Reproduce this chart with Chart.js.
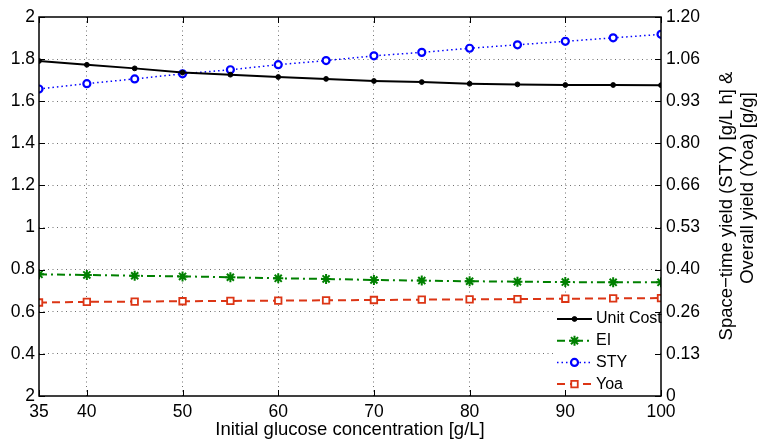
<!DOCTYPE html>
<html>
<head>
<meta charset="utf-8">
<script src="https://cdn.jsdelivr.net/npm/chart.js@4.4.1/dist/chart.umd.min.js"></script>
<style>
  html, body { margin: 0; padding: 0; background: #fff; }
</style>
</head>
<body>
<canvas id="chart" width="760" height="441"></canvas>
<script>
// data
const glucose  = [35, 40, 45, 50, 55, 60, 65, 70, 75, 80, 85, 90, 95, 100];
const unitCost = [1.791, 1.773, 1.756, 1.736, 1.726, 1.715, 1.706, 1.696, 1.691, 1.683, 1.680, 1.677, 1.677, 1.676];
const ei       = [0.778, 0.775, 0.771, 0.768, 0.764, 0.759, 0.756, 0.751, 0.748, 0.745, 0.743, 0.741, 0.740, 0.740];
const sty      = [0.972, 0.989, 1.004, 1.020, 1.033, 1.049, 1.062, 1.077, 1.088, 1.101, 1.112, 1.123, 1.134, 1.145];
const yoa      = [0.296, 0.298, 0.299, 0.300, 0.301, 0.302, 0.303, 0.304, 0.305, 0.306, 0.307, 0.308, 0.309, 0.310];

const xTicks      = [35, 40, 50, 60, 70, 80, 90, 100];
const leftTicks   = [0.2, 0.4, 0.6, 0.8, 1.0, 1.2, 1.4, 1.6, 1.8, 2.0];
const leftLabels  = ['2', '0.4', '0.6', '0.8', '1', '1.2', '1.4', '1.6', '1.8', '2'];
const rightTicks  = [0, 0.1333, 0.2667, 0.4, 0.5333, 0.6667, 0.8, 0.9333, 1.0667, 1.2];
const rightLabels = ['0', '0.13', '0.26', '0.40', '0.53', '0.66', '0.80', '0.93', '1.06', '1.20'];

const FONT = "'Liberation Sans', Arial, sans-serif";
const RED = '#dc3515';
const GRID = '#707070';
const NONE = 'rgba(0,0,0,0)';

// legend, box, inward ticks and the right axis title (MATLAB look)
const matlabFrame = {
    id: 'matlabFrame',
    afterDraw(chart) {
        const ctx = chart.ctx;
        const area = chart.chartArea;
        const x = chart.scales.x, y = chart.scales.y, y1 = chart.scales.y1;

        // legend inside bottom-right corner
        ctx.save();
        ctx.fillStyle = '#fff';
        ctx.fillRect(553, 305, area.right - 554, area.bottom - 306);
        ctx.font = '16px ' + FONT;
        ctx.textBaseline = 'middle';
        chart.data.datasets.forEach((ds, i) => {
            const rowY = 319 + i * 21.7;
            ctx.save();
            ctx.strokeStyle = ds.borderColor;
            ctx.lineWidth = ds.borderWidth;
            ctx.setLineDash(ds.borderDash || []);
            ctx.beginPath();
            ctx.moveTo(557, rowY);
            ctx.lineTo(592, rowY);
            ctx.stroke();
            ctx.restore();

            ctx.save();
            ctx.strokeStyle = ds.pointBorderColor;
            ctx.fillStyle = ds.pointBackgroundColor;
            ctx.lineWidth = ds.pointBorderWidth;
            Chart.helpers.drawPoint(ctx, {
                pointStyle: ds.pointStyle,
                radius: ds.pointRadius,
                borderWidth: ds.pointBorderWidth,
                rotation: 0
            }, 574.5, rowY);
            ctx.restore();

            ctx.fillStyle = '#000';
            ctx.fillText(ds.label, 596, rowY);
        });
        ctx.restore();

        // axes box
        ctx.save();
        ctx.strokeStyle = '#000';
        ctx.lineWidth = 1.5;
        ctx.strokeRect(area.left, area.top, area.right - area.left, area.bottom - area.top);

        // inward tick marks
        ctx.lineWidth = 1;
        ctx.beginPath();
        xTicks.forEach(v => {
            const px = Math.round(x.getPixelForValue(v)) + 0.5;
            ctx.moveTo(px, area.bottom); ctx.lineTo(px, area.bottom - 6);
            ctx.moveTo(px, area.top); ctx.lineTo(px, area.top + 6);
        });
        leftTicks.forEach(v => {
            const py = Math.round(y.getPixelForValue(v)) + 0.5;
            ctx.moveTo(area.left, py); ctx.lineTo(area.left + 6, py);
        });
        rightTicks.forEach(v => {
            const py = Math.round(y1.getPixelForValue(v)) + 0.5;
            ctx.moveTo(area.right, py); ctx.lineTo(area.right - 6, py);
        });
        ctx.stroke();
        ctx.restore();

        // right axis title, reading upwards
        const titleLines = [
            ['Space\u2212time yield (STY) [g/L h] &', 727, 206],
            ['Overall yield (Yoa) [g/g]', 748, 188]
        ];
        titleLines.forEach(([txt, tx, ty]) => {
            ctx.save();
            ctx.fillStyle = '#000';
            ctx.font = '18.5px ' + FONT;
            ctx.textAlign = 'center';
            ctx.textBaseline = 'middle';
            ctx.translate(tx, ty);
            ctx.rotate(-Math.PI / 2);
            ctx.fillText(txt, 0, 0);
            ctx.restore();
        });
    }
};

new Chart(document.getElementById('chart'), {
    type: 'line',
    data: {
        labels: glucose,
        datasets: [
            {
                label: 'Unit Cost',
                data: unitCost,
                yAxisID: 'y',
                borderColor: '#000',
                borderWidth: 2,
                pointStyle: 'circle',
                pointRadius: 2.4,
                pointBorderWidth: 1,
                pointBackgroundColor: '#000',
                pointBorderColor: '#000'
            },
            {
                label: 'EI',
                data: ei,
                yAxisID: 'y',
                borderColor: '#008000',
                borderWidth: 2,
                borderDash: [8, 4, 2, 4],
                pointStyle: 'star',
                pointRadius: 5,
                pointBorderWidth: 2,
                pointBackgroundColor: '#008000',
                pointBorderColor: '#008000'
            },
            {
                label: 'STY',
                data: sty,
                yAxisID: 'y1',
                borderColor: '#0000ff',
                borderWidth: 1.5,
                borderDash: [1.5, 3],
                pointStyle: 'circle',
                pointRadius: 3.5,
                pointBorderWidth: 2.2,
                pointBackgroundColor: '#fff',
                pointBorderColor: '#0000ff'
            },
            {
                label: 'Yoa',
                data: yoa,
                yAxisID: 'y1',
                borderColor: RED,
                borderWidth: 2,
                borderDash: [8, 5],
                pointStyle: 'rect',
                pointRadius: 4.6,
                pointBorderWidth: 1.8,
                pointBackgroundColor: '#fff',
                pointBorderColor: RED
            }
        ]
    },
    options: {
        responsive: false,
        animation: false,
        devicePixelRatio: 1,
        layout: { padding: { top: 17, left: 0, right: 0, bottom: 0 } },
        plugins: {
            legend: { display: false },
            tooltip: { enabled: false }
        },
        elements: { line: { tension: 0 } },
        scales: {
            x: {
                type: 'linear',
                min: 35,
                max: 100,
                afterBuildTicks: axis => { axis.ticks = xTicks.map(v => ({ value: v })); },
                afterFit: axis => { axis.height = 45; },
                grid: {
                    drawTicks: false,
                    lineWidth: 1,
                    color: c => (c.tick && (c.tick.value === 35 || c.tick.value === 100)) ? NONE : GRID
                },
                border: { display: false, dash: [1, 3.5] },
                ticks: {
                    autoSkip: false,
                    maxRotation: 0,
                    padding: 6,
                    color: '#000',
                    font: { family: FONT, size: 17.5 },
                    callback: v => String(v)
                },
                title: {
                    display: true,
                    text: 'Initial glucose concentration [g/L]',
                    color: '#000',
                    font: { family: FONT, size: 18.5 },
                    padding: { top: 0, bottom: 0 }
                }
            },
            y: {
                position: 'left',
                min: 0.2,
                max: 2,
                afterBuildTicks: axis => { axis.ticks = leftTicks.map(v => ({ value: v })); },
                afterFit: axis => { axis.width = 39; },
                grid: {
                    drawTicks: false,
                    lineWidth: 1,
                    color: c => (c.tick && (c.index === 0 || c.index === leftTicks.length - 1)) ? NONE : GRID
                },
                border: { display: false, dash: [1, 3.5] },
                ticks: {
                    autoSkip: false,
                    padding: 4,
                    color: '#000',
                    font: { family: FONT, size: 17.5 },
                    callback: (v, i) => leftLabels[i]
                }
            },
            y1: {
                position: 'right',
                min: 0,
                max: 1.2,
                afterBuildTicks: axis => { axis.ticks = rightTicks.map(v => ({ value: v })); },
                afterFit: axis => { axis.width = 99; },
                grid: { display: false, drawTicks: false },
                border: { display: false },
                ticks: {
                    autoSkip: false,
                    padding: 5,
                    color: '#000',
                    font: { family: FONT, size: 17.5 },
                    callback: (v, i) => rightLabels[i]
                }
            }
        }
    },
    plugins: [matlabFrame]
});
</script>
</body>
</html>
